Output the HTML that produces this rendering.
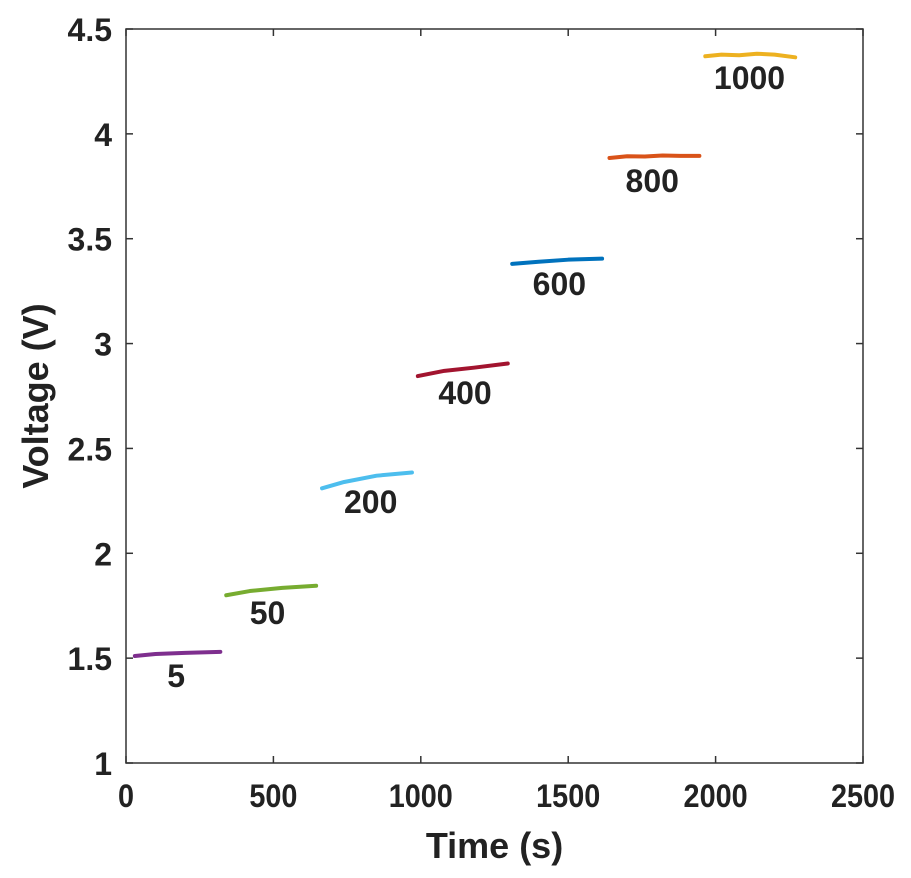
<!DOCTYPE html>
<html><head><meta charset="utf-8"><style>
body{margin:0;background:#fff;}
svg text{font-family:"Liberation Sans",Arial,sans-serif;font-weight:bold;fill:#222;}
</style></head><body>
<svg id="chart" width="911" height="873" xmlns="http://www.w3.org/2000/svg"></svg>
<script>
const xTicks=[0,500,1000,1500,2000,2500];
const yTicks=[1,1.5,2,2.5,3,3.5,4,4.5];
const yTickLabels=["1","1.5","2","2.5","3","3.5","4","4.5"];
const seriesNames=["5","50","200","400","600","800","1000"];
const seriesColors=["#7e2f8e","#77ac30","#4dbeee","#a2142f","#0072bd","#d95319","#edb120"];
const seriesTimes=[
 [30,100,200,320],[340,420,530,645],[665,740,850,970],[990,1080,1180,1295],
 [1310,1400,1500,1615],[1640,1700,1760,1820,1880,1945],[1965,2020,2080,2140,2200,2270]];
const seriesVolts=[
 [1.51,1.52,1.525,1.53],[1.80,1.82,1.835,1.845],[2.31,2.34,2.37,2.385],[2.845,2.87,2.885,2.905],
 [3.38,3.39,3.40,3.405],[3.885,3.893,3.892,3.897,3.895,3.895],[4.37,4.378,4.375,4.382,4.378,4.365]];
const labelX=[170,480,830,1150,1470,1785,2115];
const labelV=[1.42,1.72,2.25,2.77,3.29,3.78,4.27];

const L=126,R=863,T=29,B=763;
const xs=v=>L+(v-0)/2500*(R-L);
const ys=v=>B-(v-1)/3.5*(B-T);
const svg=document.getElementById('chart');
const NS='http://www.w3.org/2000/svg';
function mk(t,a){const e=document.createElementNS(NS,t);for(const k in a)e.setAttribute(k,a[k]);svg.appendChild(e);return e;}

const box=mk('rect',{x:L,y:T,width:R-L,height:B-T,fill:'none',stroke:'#333','stroke-width':1.5});



xTicks.forEach(v=>{
 const x=xs(v);
 mk('line',{x1:x,y1:B,x2:x,y2:B-7,stroke:'#333','stroke-width':1.5});
 mk('line',{x1:x,y1:T,x2:x,y2:T+7,stroke:'#333','stroke-width':1.5});
 const t=mk('text',{x:x,y:B+44,'text-anchor':'middle','font-size':32,transform:'translate('+x+',0) scale(0.9,1) translate('+(-x)+',0)'});
 t.textContent=v;
 
 
});
yTicks.forEach((v,i)=>{
 const y=ys(v);
 mk('line',{x1:L,y1:y,x2:L+7,y2:y,stroke:'#333','stroke-width':1.5});
 mk('line',{x1:R,y1:y,x2:R-7,y2:y,stroke:'#333','stroke-width':1.5});
 const t=mk('text',{x:L-14,y:y+12,'text-anchor':'end','font-size':32});
 t.textContent=yTickLabels[i];
 
 
});
const xt=mk('text',{x:(L+R)/2,y:858,'text-anchor':'middle','font-size':36});
xt.textContent='Time (s)';


const yt=mk('text',{x:0,y:0,'text-anchor':'middle','font-size':36,transform:'translate(48,396) rotate(-90)'});
yt.textContent='Voltage (V)';



seriesNames.forEach((n,i)=>{
 const pts=seriesTimes[i].map((t,j)=>xs(t)+','+ys(seriesVolts[i][j])).join(' ');
 const p=mk('polyline',{points:pts,fill:'none',stroke:seriesColors[i],'stroke-width':4,'stroke-linecap':'round','stroke-linejoin':'round'});
 
 
 const t=mk('text',{x:xs(labelX[i]),y:ys(labelV[i])+12,'text-anchor':'middle','font-size':32,fill:'#111'});
 t.textContent=n;
 
 
});
</script>
</body></html>
